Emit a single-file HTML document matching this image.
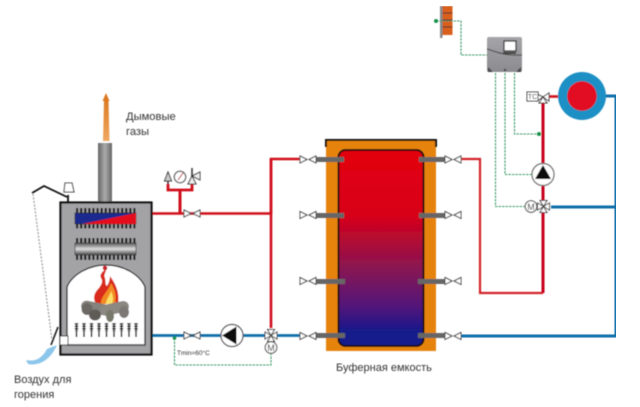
<!DOCTYPE html>
<html><head><meta charset="utf-8"><style>
html,body{margin:0;padding:0;background:#fff;width:640px;height:407px;overflow:hidden}
svg{display:block}
text{font-family:"Liberation Sans","Noto Sans CJK SC",sans-serif;fill:#333}
</style></head><body>
<svg width="640" height="407" viewBox="0 0 640 407" xmlns="http://www.w3.org/2000/svg">
<defs>
<filter id="soft" x="0" y="0" width="100%" height="100%"><feGaussianBlur stdDeviation="0.4"/></filter>
<linearGradient id="tank" x1="0" y1="0" x2="0" y2="1">
<stop offset="0" stop-color="#e3000f"/><stop offset=".33" stop-color="#d80018"/><stop offset=".6" stop-color="#8a1552"/><stop offset=".8" stop-color="#52187a"/><stop offset=".93" stop-color="#141a8c"/><stop offset="1" stop-color="#141a8c"/>
</linearGradient>
<linearGradient id="smoke" x1="0" y1="0" x2="0" y2="1"><stop offset="0" stop-color="#d9731a"/><stop offset="1" stop-color="#f0a860"/></linearGradient>
<linearGradient id="chim" x1="0" y1="0" x2="1" y2="0"><stop offset="0" stop-color="#666"/><stop offset=".5" stop-color="#aaa"/><stop offset="1" stop-color="#666"/></linearGradient>
<linearGradient id="tube" x1="0" y1="0" x2="0" y2="1"><stop offset="0" stop-color="#555"/><stop offset=".5" stop-color="#ddd"/><stop offset="1" stop-color="#444"/></linearGradient>
<linearGradient id="gbox" x1="0" y1="0" x2="0" y2="1"><stop offset="0" stop-color="#a5a5a8"/><stop offset="1" stop-color="#8c8c90"/></linearGradient>
<g id="valve"><path d="M-8,-3.5 L-1,0 L-8,3.5Z M8,-3.5 L1,0 L8,3.5Z" fill="#fff" stroke="#444" stroke-width="1"/></g>
<g id="mix"><path d="M-6,-3.5 L0,0 L-6,3.5Z M6,-3.5 L0,0 L6,3.5Z M-3.5,-6 L0,0 L3.5,-6Z M-3.5,6 L0,0 L3.5,6Z" fill="#fff" stroke="#444" stroke-width="1"/></g>
</defs>
<g filter="url(#soft)">
<!-- pipes -->
<g fill="none" stroke-width="2.6">
<path d="M152,213.5H271M271,213.5V159H300" stroke="#d0101c"/>
<path d="M271,159V328" stroke="#d0101c"/>
<path d="M180,213V190" stroke="#d0101c" stroke-width="3"/>
<path d="M168,184V190H192V184" stroke="#d0101c" stroke-width="2.8"/>
<path d="M461,159H480V293H543" stroke="#d3242c" stroke-width="2.2"/>
<path d="M543,103V293" stroke="#c8001a" stroke-width="3"/>
<path d="M548,96.5H560" stroke="#d0101c"/>
<path d="M152,335.5H303" stroke="#0b6ea8" stroke-width="2.8"/>
<path d="M461,336H616V96H604" stroke="#0b6ea8" stroke-width="3"/>
<path d="M551,207H616" stroke="#0b6ea8" stroke-width="3"/>
</g>
<!-- chimney + smoke -->
<rect x="98" y="143" width="14" height="60" fill="url(#chim)"/>
<path d="M106,93 L109.500,101 H108.500 L109.500,141 H103 L104,101 H102.500Z" fill="url(#smoke)"/>
<!-- boiler -->
<rect x="60.500" y="202.500" width="91" height="152" fill="#a3a3a6" stroke="#111" stroke-width="2.2"/>
<g stroke="#111" stroke-width="2.1" stroke-dasharray="2.100 2">
<path d="M76,210.500H136M76,226H136" stroke-width="5"/>
<path d="M76,240.500H136M76,257.500H136" stroke-width="5"/>
</g>
<rect x="75" y="213" width="61" height="11" fill="#1d2a90" stroke="#222" stroke-width=".6"/>
<path d="M82,224 L136,213V224Z" fill="#e4101c"/>
<rect x="75" y="243" width="61" height="12" fill="url(#tube)" stroke="#333" stroke-width=".6"/>
<!-- firebox -->
<path d="M67,345 V287 C72,275 88,265 106,265 C124,265 140,275 145,287 V345Z" fill="#fff" stroke="#111" stroke-width="1.300"/>
<path d="M67,345 H145" stroke="#555" stroke-width="1.500"/>
<!-- flames -->
<path d="M96,304 C92,297 95,292 99,288 C102,284 103,281 101,278 C99,274 103,272 106,268 C107,272 103,274 105,278 C106,282 105,285 107,286 C109,283 110,279 110,276 C115,283 120,292 118,304 Z" fill="#d92c1c"/>
<path d="M101,304 C100,297 108,292 111,283 C115,289 117,297 115,304Z" fill="#f28a20"/>
<path d="M106,304 C106,299 110,296 111,291 C113,295 114,300 112,304Z" fill="#fbe06a"/>
<circle cx="105" cy="268" r="2.300" fill="#c9202a"/>
<!-- logs -->
<g>
<rect x="81" y="303" width="34" height="11" rx="5.500" transform="rotate(12 98 308)" fill="#85817c"/>
<rect x="100" y="303" width="29" height="11" rx="5.500" transform="rotate(-12 114 308)" fill="#8b8781"/>
<ellipse cx="87" cy="309" rx="5.500" ry="6" fill="#6c6864"/>
<ellipse cx="95" cy="315" rx="6" ry="5.500" fill="#5f5b58"/>
<ellipse cx="110" cy="316" rx="4" ry="6" fill="#77776a"/>
<ellipse cx="124" cy="312" rx="5" ry="6" fill="#7c7874"/>
</g>
<!-- grate -->
<g stroke="#222" fill="none">
<path d="M76.500,323V337M84,323V337M91.500,323V337M99,323V337M106.500,323V337M114,323V337M121.500,323V337M129,323V337M136,323V337" stroke-width="1.500"/>
<path d="M76.500,323V331M84,323V331M91.500,323V331M99,323V331M106.500,323V331M114,323V331M121.500,323V331M129,323V331M136,323V331" stroke-width="3.500" stroke-dasharray="1.500 1"/>
</g>
<!-- air door + lever -->
<rect x="60" y="336" width="8" height="9" fill="#fff" stroke="#222" stroke-width="1"/>
<path d="M58,327 L51,345" stroke="#111" stroke-width="1.500"/>
<path d="M32,193 L44,186 L67,197 M68,195V202" fill="none" stroke="#111" stroke-width="1.800"/>
<path d="M65,183H72L74,192H64Z" fill="#fff" stroke="#333" stroke-width="1"/>
<path d="M33,194 L52,340" fill="none" stroke="#999" stroke-width="1.200" stroke-dasharray="2 1.500"/>
<path d="M26,360 C36,362 42,358 47,349 L57,345 C53,354 44,367 28,364Z" fill="#8cc6ea"/>
<!-- gauges -->
<circle cx="180" cy="177" r="5.700" fill="#fff" stroke="#333" stroke-width="1"/>
<path d="M178,180 L183,173" stroke="#b22" stroke-width="1"/>
<path d="M168,172 L171.500,181H164.500Z" fill="#ccc" stroke="#333" stroke-width="1"/>
<path d="M168,181V184" stroke="#333" stroke-width="1.500"/>
<path d="M192,176 L196,184H188Z M192,176 L200,172V180Z" fill="#eee" stroke="#333" stroke-width="1"/>
<path d="M192,176V168" stroke="#333" stroke-width="1.500"/>
<use href="#valve" x="192" y="213.500"/>
<!-- lower loop -->
<use href="#valve" x="192" y="335.500"/>
<circle cx="232" cy="335.500" r="11" fill="#fff" stroke="#555" stroke-width="1.200"/>
<path d="M222,335.500 L236.500,326.500V344.500Z" fill="#111"/>
<use href="#mix" x="271" y="335.500"/>
<circle cx="271" cy="347.500" r="5.800" fill="#fff" stroke="#444" stroke-width="1"/>
<text x="271" y="351" font-size="9" text-anchor="middle" fill="#222">M</text>
<path d="M174.500,338 V365 H271 V354" fill="none" stroke="#3f9c6c" stroke-width="1.100" stroke-dasharray="2.500 1"/>
<circle cx="174.500" cy="338" r="1.800" fill="#189048"/>
<text x="177" y="355" font-size="6.500" fill="#333">Tmin=60°C</text>
<!-- tank -->
<rect x="326" y="139" width="110" height="212" fill="#e58310"/>
<path d="M326,147 V140 H436 V147" fill="none" stroke="#111" stroke-width="2"/>
<rect x="338.500" y="150" width="85" height="196" rx="7" fill="url(#tank)" stroke="#1a1010" stroke-width="2"/>
<g fill="#666">
<rect x="316" y="157" width="28" height="5"/><rect x="316" y="213" width="28" height="5"/><rect x="316" y="279" width="29" height="5"/><rect x="316" y="333" width="29" height="5"/>
<rect x="419" y="157" width="28" height="5"/><rect x="419" y="213" width="28" height="5"/><rect x="418" y="279" width="29" height="5"/><rect x="418" y="333" width="29" height="5"/>
</g>
<use href="#valve" x="308" y="159.500"/><use href="#valve" x="308" y="215"/><use href="#valve" x="308" y="281"/><use href="#valve" x="308" y="336"/>
<use href="#valve" x="453" y="159.500"/><use href="#valve" x="453" y="215"/><use href="#valve" x="453" y="281"/><use href="#valve" x="453" y="336"/>
<!-- right group -->
<circle cx="582" cy="96" r="24" fill="#1f8fc4"/>
<circle cx="582" cy="96" r="14.800" fill="#e21020"/>
<path d="M537,94 L543,97 L537,101Z M549,93 L543,97 L549,101Z M539,103 L543,97 L547,103Z" fill="#fff" stroke="#333" stroke-width="1"/>
<rect x="527" y="92" width="11" height="9" fill="#fff" stroke="#333" stroke-width="1"/>
<text x="532.500" y="99" font-size="7" text-anchor="middle" fill="#222">TC</text>
<circle cx="543" cy="174.500" r="11" fill="#fff" stroke="#666" stroke-width="1.200"/>
<path d="M543,165 L551,179H535Z" fill="#111"/>
<use href="#mix" x="543.500" y="206.500"/>
<circle cx="531" cy="206.500" r="5.800" fill="#fff" stroke="#444" stroke-width="1"/>
<text x="531" y="210" font-size="9" text-anchor="middle" fill="#222">M</text>
<!-- controller -->
<rect x="487" y="37" width="35" height="35" rx="2" fill="url(#gbox)"/>
<path d="M487,49 C497,52 505,56 522,55" fill="none" stroke="#444" stroke-width="1"/>
<rect x="504" y="41" width="12" height="10" fill="#fff" stroke="#333" stroke-width="1.300"/>
<rect x="503" y="52" width="13" height="2" fill="#444"/>
<path d="M488,72 L488,67 L493,72Z M521,72 L521,67 L516,72Z" fill="#444"/>
<circle cx="505" cy="70" r="1.200" fill="#444"/>
<!-- bricks -->
<rect x="440" y="6" width="2.500" height="32" fill="#888"/>
<rect x="442.500" y="6" width="10" height="29" fill="#d9611a"/>
<path d="M442.500,13H452.500M442.500,20H452.500M442.500,27H452.500" stroke="#333" stroke-width="1"/>
<!-- signal lines -->
<g fill="none" stroke="#3f9c6c" stroke-width="1.100" stroke-dasharray="2.500 1">
<path d="M436,21H461V55H487"/>
<path d="M495.500,73V206.500H525"/>
<path d="M505,73V174.500H532"/>
<path d="M514.500,73V134H539"/>
</g>
<circle cx="436" cy="21" r="2" fill="#189048"/>
<circle cx="539" cy="134" r="2" fill="#189048"/>
<!-- labels -->
<text x="126" y="120" font-size="11.200">Дымовые</text>
<text x="126" y="135" font-size="11.200">газы</text>
<text x="14" y="383" font-size="11">Воздух для</text>
<text x="14" y="398" font-size="11">горения</text>
<text x="336" y="371" font-size="11">Буферная емкость</text>
</g>
</svg>
</body></html>
